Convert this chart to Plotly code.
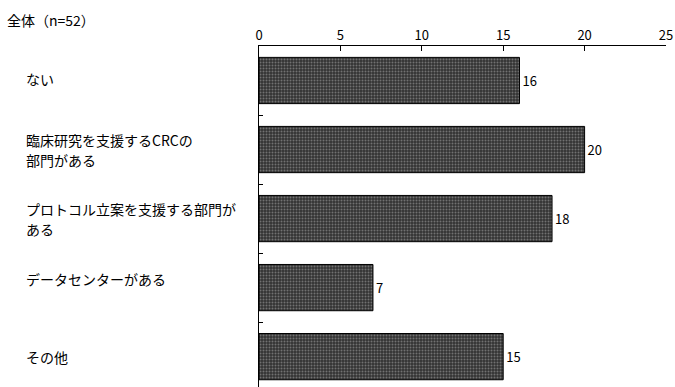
import plotly.graph_objects as go

categories = ["ない", "臨床研究を支援するCRCの<br>部門がある", "プロトコル立案を支援する部門が<br>ある", "データセンターがある", "その他"]
values = [16, 20, 18, 7, 15]
title_text = "全体（n=52）"
x_ticks = [0, 5, 10, 15, 20, 25]
label_yshift = [2, 0, 0, 9, 0]

FONT = "Noto Sans CJK JP"

W, H = 675, 387
L, R, T, B = 259, 675 - 666, 46, 0
pw = W - L - R
ph = H - T - B
LINE_GAP = 20

fig = go.Figure()
fig.add_trace(go.Bar(
    y=list(range(len(categories))),
    x=values,
    orientation="h",
    width=0.67,
    marker=dict(
        color="#333333",
        line=dict(color="#000000", width=1),
        pattern=dict(shape=".", fgcolor="#b0b0b0", bgcolor="#333333", size=3, solidity=0.35),
    ),
    text=[str(v) for v in values],
    textposition="outside",
    textfont=dict(family=FONT, size=13, color="#000"),
    cliponaxis=False,
    hoverinfo="skip",
))

for i, c in enumerate(categories):
    lines = c.split("<br>")
    n = len(lines)
    for k, line in enumerate(lines):
        off = ((n - 1) / 2 - k) * LINE_GAP
        fig.add_annotation(
            x=(25 - L) / pw, xref="paper", y=i, yref="y", text=line, showarrow=False,
            xanchor="left", yanchor="middle", align="left", borderpad=0,
            yshift=label_yshift[i] + off,
            font=dict(family=FONT, size=14, color="#000"),
        )
fig.add_annotation(
    x=(6 - L) / pw, y=1 + (T - 20) / ph, xref="paper", yref="paper",
    text=title_text, showarrow=False, borderpad=0,
    xanchor="left", yanchor="middle", font=dict(family=FONT, size=14, color="#000"),
)

boundaries = [i - 0.5 for i in range(len(categories) + 1)]

fig.update_layout(
    width=W, height=H,
    margin=dict(l=L, r=R, t=T, b=B),
    paper_bgcolor="white", plot_bgcolor="white",
    showlegend=False,
    font=dict(family=FONT, size=13, color="#000"),
    xaxis=dict(
        side="top", range=[0, 25], tickvals=x_ticks,
        ticks="inside", ticklen=5, tickcolor="#000",
        showline=True, linecolor="#000", linewidth=1,
        showgrid=False, zeroline=False,
        tickfont=dict(family=FONT, size=13, color="#000"),
        ticklabelstandoff=0,
    ),
    yaxis=dict(
        range=[4.44, -0.5],
        tickvals=boundaries,
        showticklabels=False,
        ticks="inside", ticklen=4, tickcolor="#000",
        showline=True, linecolor="#000", linewidth=1,
        showgrid=False, zeroline=False,
    ),
)

fig.write_html(
    "out.html",
    config={"displayModeBar": False},
    post_script="document.body.style.margin='0';document.body.style.overflow='hidden';",
)
